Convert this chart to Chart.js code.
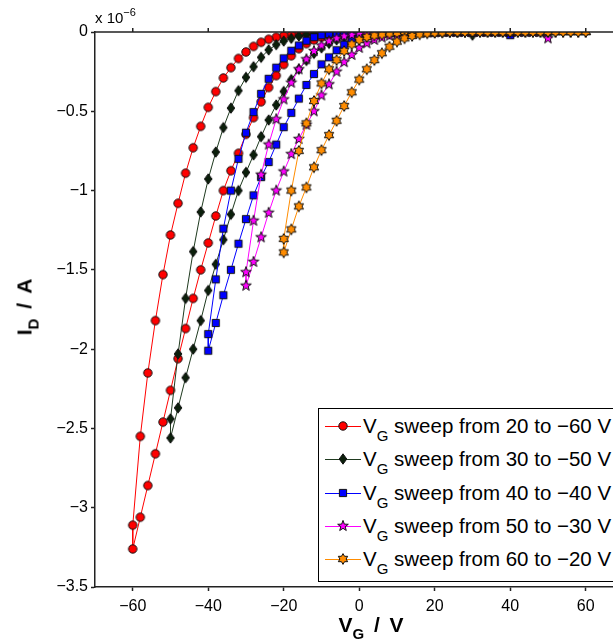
<!DOCTYPE html>
<html lang="en">
<head>
  <meta charset="UTF-8">
  <title>I_D vs V_G sweeps</title>
  <script src="https://cdn.jsdelivr.net/npm/chart.js"></script>
  <style>
    body { margin: 0; background: #fff; }
    #wrap { position: relative; width: 613px; height: 643px; overflow: hidden; font-family: "Liberation Sans", Arial, sans-serif; color: #000; }
    #wrap canvas#idvgChart { position: absolute; left: 0; top: 0; }
    .ttl { position: absolute; font-weight: bold; font-size: 21px; white-space: nowrap; word-spacing: 4px; }
    .ttl .sub { font-size: 15px; vertical-align: -7px; }
    #yTitle { left: 27px; top: 307px; transform: translate(-50%, -50%) rotate(-90deg); }
    #xTitle { left: 371px; top: 627px; transform: translate(-50%, -50%); }
    #scaleNote { position: absolute; left: 95px; top: 6px; font-size: 15px; white-space: nowrap; }
    #scaleNote .sup { font-size: 11px; vertical-align: 7px; }
    #legend { position: absolute; left: 318px; top: 408px; width: 330px; height: 172px; border: 1px solid #000; background: #fff; }
    .row { position: absolute; left: 0; height: 34px; }
    .row canvas { position: absolute; left: 6px; top: 5px; }
    .row .lbl { position: absolute; left: 44px; top: 0px; font-size: 20.5px; line-height: 20px; white-space: nowrap; }
    .row .lbl .sub { font-size: 15px; vertical-align: -8px; }
  </style>
</head>
<body>
<div id="wrap">
  <canvas id="idvgChart" width="630" height="643"></canvas>
  <div id="scaleNote">x 10<span class="sup">&minus;6</span></div>
  <div id="yTitle" class="ttl">I<span class="sub">D</span> / A</div>
  <div id="xTitle" class="ttl">V<span class="sub">G</span> / V</div>
  <div id="legend"></div>
</div>
<script>
  // gate voltage steps (V), each sweep goes down then back up
  const sweep1Vg = [20, 18, 16, 14, 12, 10, 8, 6, 4, 2,
    0, -2, -4, -6, -8, -10, -12, -14, -16, -18,
    -20, -22, -24, -26, -28, -30, -32, -34, -36, -38,
    -40, -42, -44, -46, -48, -50, -52, -54, -56, -58, -60];
  const sweep2Vg = [30, 28, 26, 24, 22, 20, 18, 16, 14, 12,
    10, 8, 6, 4, 2, 0, -2, -4, -6, -8,
    -10, -12, -14, -16, -18, -20, -22, -24, -26, -28,
    -30, -32, -34, -36, -38, -40, -42, -44, -46, -48, -50];
  const sweep3Vg = [40, 38, 36, 34, 32, 30, 28, 26, 24, 22,
    20, 18, 16, 14, 12, 10, 8, 6, 4, 2,
    0, -2, -4, -6, -8, -10, -12, -14, -16, -18,
    -20, -22, -24, -26, -28, -30, -32, -34, -36, -38, -40];
  const sweep4Vg = [50, 48, 46, 44, 42, 40, 38, 36, 34, 32,
    30, 28, 26, 24, 22, 20, 18, 16, 14, 12,
    10, 8, 6, 4, 2, 0, -2, -4, -6, -8,
    -10, -12, -14, -16, -18, -20, -22, -24, -26, -28, -30];
  const sweep5Vg = [60, 58, 56, 54, 52, 50, 48, 46, 44, 42,
    40, 38, 36, 34, 32, 30, 28, 26, 24, 22,
    20, 18, 16, 14, 12, 10, 8, 6, 4, 2,
    0, -2, -4, -6, -8, -10, -12, -14, -16, -18, -20];

  // drain current in units of 1e-6 A, listed in the same order as the Vg arrays
  const sweep1Down = [0, 0, 0, 0, 0, 0, 0, 0, 0, 0,
    -0.001, -0.001, -0.002, -0.003, -0.004, -0.006, -0.008, -0.011, -0.015, -0.019,
    -0.023, -0.033, -0.046, -0.065, -0.091, -0.126, -0.167, -0.225, -0.29, -0.376,
    -0.475, -0.595, -0.73, -0.89, -1.08, -1.28, -1.53, -1.82, -2.15, -2.55, -3.11];
  const sweep1Up = [0, 0, 0, 0, 0, 0, -0.001, -0.001, -0.001, -0.002,
    -0.002, -0.004, -0.007, -0.012, -0.02, -0.033, -0.05, -0.073, -0.105, -0.15,
    -0.205, -0.275, -0.35, -0.44, -0.54, -0.645, -0.765, -0.875, -1.0, -1.16,
    -1.33, -1.5, -1.68, -1.87, -2.06, -2.26, -2.46, -2.66, -2.86, -3.06, -3.26];

  const sweep2Down = [-0.02, 0, 0, 0, 0, 0, 0, 0, 0, 0,
    0, 0, 0, 0, 0, -0.001, -0.002, -0.003, -0.004, -0.006,
    -0.008, -0.011, -0.016, -0.025, -0.04, -0.057, -0.08, -0.113, -0.16, -0.219,
    -0.286, -0.37, -0.48, -0.603, -0.757, -0.927, -1.135, -1.385, -1.68, -2.03, -2.44];
  const sweep2Up = [0, 0, 0, 0, 0, 0, 0, 0, 0, 0,
    -0.002, -0.003, -0.005, -0.007, -0.01, -0.014, -0.022, -0.034, -0.05, -0.072,
    -0.1, -0.135, -0.18, -0.235, -0.3, -0.375, -0.46, -0.555, -0.66, -0.775,
    -0.885, -1.0, -1.15, -1.31, -1.465, -1.63, -1.82, -2.0, -2.18, -2.37, -2.56];

  const sweep3Down = [-0.02, 0, 0, 0, 0, 0, 0, 0, 0, 0,
    0, 0, 0, 0, 0, 0, 0, 0, 0, 0,
    -0.001, -0.002, -0.004, -0.007, -0.012, -0.02, -0.033, -0.055, -0.085, -0.118,
    -0.166, -0.225, -0.295, -0.39, -0.505, -0.635, -0.8, -1.0, -1.24, -1.56, -1.905];
  const sweep3Up = [0, 0, 0, 0, 0, 0, 0, 0, 0, 0,
    0, 0, 0, 0, 0, -0.004, -0.006, -0.01, -0.016, -0.025,
    -0.037, -0.055, -0.08, -0.115, -0.16, -0.204, -0.265, -0.334, -0.42, -0.51,
    -0.6, -0.71, -0.82, -0.915, -1.03, -1.18, -1.335, -1.5, -1.66, -1.835, -2.01];

  const sweep4Down = [-0.04, 0, 0, 0, 0, 0, 0, 0, 0, 0,
    0, 0, 0, 0, 0, 0, 0, 0, 0, 0,
    0, 0, -0.003, -0.005, -0.008, -0.012, -0.018, -0.027, -0.04, -0.058,
    -0.085, -0.12, -0.172, -0.235, -0.32, -0.425, -0.55, -0.71, -0.9, -1.19, -1.515];
  const sweep4Up = [0, 0, 0, 0, 0, 0, 0, 0, 0, 0,
    0, 0, 0, 0, 0, -0.002, -0.003, -0.005, -0.007, -0.011,
    -0.016, -0.024, -0.035, -0.05, -0.071, -0.1, -0.145, -0.19, -0.25, -0.33,
    -0.4, -0.5, -0.585, -0.675, -0.77, -0.88, -1.0, -1.14, -1.295, -1.45, -1.6];

  const sweep5Down = [0, 0, 0, 0, 0, 0, 0, 0, 0, 0,
    0, 0, 0, 0, 0, 0, 0, 0, 0, 0,
    0, 0, 0, 0, 0, -0.006, -0.01, -0.016, -0.022, -0.032,
    -0.05, -0.078, -0.12, -0.177, -0.235, -0.324, -0.435, -0.576, -0.75, -1.0, -1.305];
  const sweep5Up = [0, 0, 0, 0, 0, 0, 0, 0, 0, 0,
    0, 0, 0, 0, 0, 0, 0, 0, 0, -0.003,
    -0.005, -0.009, -0.015, -0.025, -0.04, -0.061, -0.093, -0.134, -0.177, -0.235,
    -0.3, -0.38, -0.467, -0.56, -0.65, -0.745, -0.853, -0.98, -1.1, -1.245, -1.39];

  const sweepLabels = ['20 to \u221260 V', '30 to \u221250 V', '40 to \u221240 V', '50 to \u221230 V', '60 to \u221220 V'];
  const xTicks = [-60, -40, -20, 0, 20, 40, 60];
  const yTicks = [0, -0.5, -1, -1.5, -2, -2.5, -3, -3.5];

  // marker images
  function markerCanvas(size, draw) {
    const c = document.createElement('canvas');
    c.width = size; c.height = size;
    const g = c.getContext('2d');
    g.translate(size / 2, size / 2);
    g.lineWidth = 1;
    g.strokeStyle = '#111';
    draw(g);
    return c;
  }
  function starPath(g, n, outer, inner) {
    g.beginPath();
    for (let i = 0; i < 2 * n; i++) {
      const r = i % 2 ? inner : outer;
      const a = -Math.PI / 2 + i * Math.PI / n;
      g.lineTo(r * Math.cos(a), r * Math.sin(a));
    }
    g.closePath();
  }
  const circleImg = markerCanvas(12, g => {
    g.beginPath(); g.arc(0, 0, 4.2, 0, Math.PI * 2);
    g.fillStyle = '#ff0000'; g.fill(); g.stroke();
  });
  const diamondImg = markerCanvas(14, g => {
    g.beginPath(); g.moveTo(0, -5.2); g.lineTo(3.8, 0); g.lineTo(0, 5.2); g.lineTo(-3.8, 0); g.closePath();
    g.fillStyle = '#0b1f0b'; g.fill(); g.stroke();
  });
  const squareImg = markerCanvas(12, g => {
    g.beginPath(); g.rect(-3.6, -3.6, 7.2, 7.2);
    g.fillStyle = '#0000ff'; g.fill(); g.stroke();
  });
  const starImg = markerCanvas(14, g => {
    starPath(g, 5, 5.6, 2.3);
    g.fillStyle = '#ff00ff'; g.fill(); g.stroke();
  });
  const hexImg = markerCanvas(14, g => {
    starPath(g, 6, 5.4, 3.1);
    g.fillStyle = '#ff8c00'; g.fill(); g.stroke();
  });

  function loop(vg, down, up) {
    const pts = vg.map((v, i) => ({ x: v, y: down[i] }));
    for (let i = vg.length - 1; i >= 0; i--) pts.push({ x: vg[i], y: up[i] });
    return pts;
  }

  const series = [
    { vg: sweep1Vg, down: sweep1Down, up: sweep1Up, color: '#ff0000', img: circleImg },
    { vg: sweep2Vg, down: sweep2Down, up: sweep2Up, color: '#1f3a1f', img: diamondImg },
    { vg: sweep3Vg, down: sweep3Down, up: sweep3Up, color: '#0000ff', img: squareImg },
    { vg: sweep4Vg, down: sweep4Down, up: sweep4Up, color: '#ff00ff', img: starImg },
    { vg: sweep5Vg, down: sweep5Down, up: sweep5Up, color: '#ff8c00', img: hexImg },
  ];

  const datasets = series.map((s, k) => ({
    label: 'VG sweep from ' + sweepLabels[k],
    data: loop(s.vg, s.down, s.up),
    borderColor: s.color,
    borderWidth: 1,
    pointStyle: s.img,
    pointRadius: 5,
    tension: 0,
    order: series.length - k,
  }));

  // top frame line with outward ticks
  const topFrame = {
    id: 'topFrame',
    afterDraw(chart) {
      const { ctx, chartArea: a, scales } = chart;
      ctx.save();
      ctx.strokeStyle = '#222';
      ctx.lineWidth = 1.5;
      ctx.beginPath();
      ctx.moveTo(a.left, a.top);
      ctx.lineTo(a.right, a.top);
      xTicks.forEach(v => {
        const px = scales.x.getPixelForValue(v);
        ctx.moveTo(px, a.top);
        ctx.lineTo(px, a.top - 4);
      });
      ctx.stroke();
      ctx.restore();
    }
  };

  const tickFont = { family: '"Liberation Sans", Arial, sans-serif', size: 16 };
  const minus = v => (v === 0 ? '0' : (v < 0 ? '\u2212' : '') + Math.abs(v));

  new Chart(document.getElementById('idvgChart'), {
    type: 'line',
    data: { datasets: datasets },
    options: {
      responsive: false,
      animation: false,
      layout: { padding: { top: 32, right: 6.5, left: 0, bottom: 0 } },
      plugins: { legend: { display: false }, tooltip: { enabled: false } },
      scales: {
        x: {
          type: 'linear',
          min: -70,
          max: 70,
          afterBuildTicks: scale => { scale.ticks = xTicks.map(v => ({ value: v })); },
          afterFit: scale => { scale.height = 56; },
          grid: { drawOnChartArea: false, tickLength: 4, color: '#222', tickWidth: 1.5 },
          border: { display: true, color: '#222', width: 1.5 },
          ticks: { color: '#000', font: tickFont, padding: 6, maxRotation: 0, callback: minus },
        },
        y: {
          type: 'linear',
          min: -3.5,
          max: 0,
          afterBuildTicks: scale => { scale.ticks = yTicks.map(v => ({ value: v })); },
          afterFit: scale => { scale.width = 95; },
          grid: { drawOnChartArea: false, tickLength: 4, color: '#222', tickWidth: 1.5 },
          border: { display: true, color: '#222', width: 1.5 },
          ticks: { color: '#000', font: tickFont, padding: 3, callback: minus },
        },
      },
    },
    plugins: [topFrame],
  });

  // legend: line with marker, then label
  const legendEl = document.getElementById('legend');
  series.forEach((s, k) => {
    const row = document.createElement('div');
    row.className = 'row';
    row.style.top = (k * 33.3) + 'px';
    const c = document.createElement('canvas');
    c.width = 36; c.height = 24;
    const g = c.getContext('2d');
    g.strokeStyle = s.color; g.lineWidth = 1;
    g.beginPath(); g.moveTo(0, 12.5); g.lineTo(36, 12.5); g.stroke();
    g.drawImage(s.img, 18 - s.img.width / 2, 12 - s.img.height / 2);
    row.appendChild(c);
    const lbl = document.createElement('span');
    lbl.className = 'lbl';
    lbl.style.top = '7px';
    lbl.innerHTML = 'V<span class="sub">G</span> sweep from ' + sweepLabels[k];
    row.appendChild(lbl);
    legendEl.appendChild(row);
  });
</script>
</body>
</html>
